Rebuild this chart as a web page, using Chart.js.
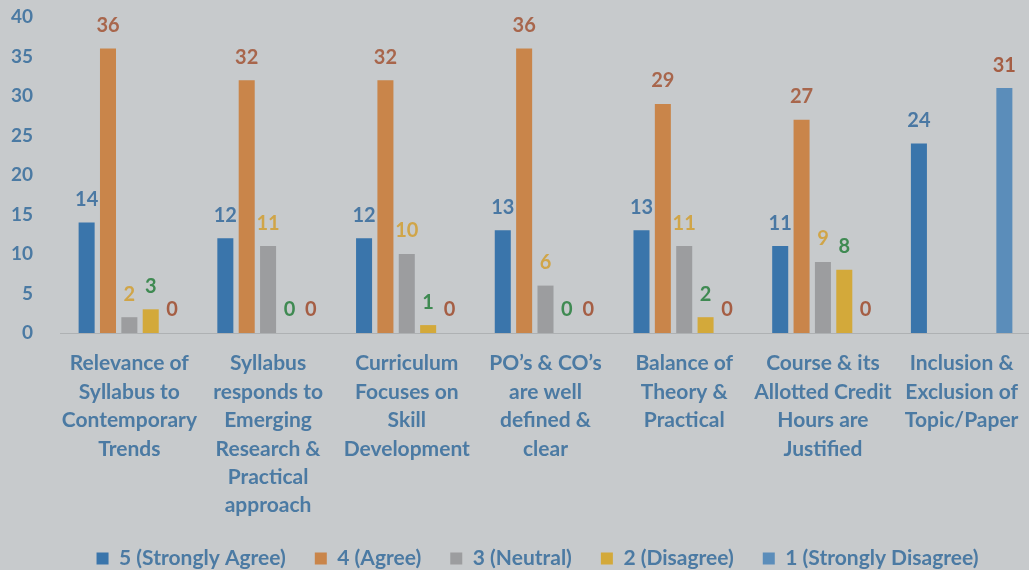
<!DOCTYPE html>
<html>
<head>
<meta charset="utf-8">
<script src="https://cdn.jsdelivr.net/npm/chart.js@4.4.0/dist/chart.umd.min.js"></script>
<style>
  html, body { margin: 0; padding: 0; background: #c7cacc; overflow: hidden; }
  #wrap { width: 1031px; height: 570px; }
</style>
</head>
<body>
<div id="wrap"><canvas id="c" width="1031" height="570"></canvas></div>
<script>
const categories = [
  ["Relevance of", "Syllabus to", "Contemporary", "Trends"],
  ["Syllabus", "responds to", "Emerging", "Research &", "Practical", "approach"],
  ["Curriculum", "Focuses on", "Skill", "Development"],
  ["PO\u2019s & CO\u2019s", "are well", "defined &", "clear"],
  ["Balance of", "Theory &", "Practical"],
  ["Course & its", "Allotted Credit", "Hours are", "Justified"],
  ["Inclusion &", "Exclusion of", "Topic/Paper"]
];
const seriesNames = ["5 (Strongly Agree)", "4 (Agree)", "3 (Neutral)", "2 (Disagree)", "1 (Strongly Disagree)"];
const stronglyAgree    = [14, 12, 12, 13, 13, 11, 24];
const agree            = [36, 32, 32, 36, 29, 27, null];
const neutral          = [2, 11, 10, 6, 11, 9, null];
const disagree         = [3, 0, 1, 0, 2, 8, null];
const stronglyDisagree = [0, 0, 0, 0, 0, 0, 31];
const yTicks = [0, 5, 10, 15, 20, 25, 30, 35, 40];

const barColors   = ["#3a75ab", "#c9854a", "#9c9d9f", "#d3a93a", "#5b8dba"];
const labelColors = ["#4a78a3", "#a8664c", "#d0a548", "#3f8a52", "#a55e44"];
const textBlue = "#4b7aa3";
const FONT = "Lato, 'Open Sans', sans-serif";

const PLOT_TOP = 17;
const PLOT_BOTTOM = 333;
const LEGEND_SHIFT = 22;

const valueLabels = {
  id: 'valueLabels',
  afterDatasetsDraw(chart) {
    const ctx = chart.ctx;
    ctx.save();
    ctx.font = "bold 20px " + FONT;
    ctx.textAlign = 'center';
    ctx.textBaseline = 'middle';
    chart.data.datasets.forEach((ds, di) => {
      const meta = chart.getDatasetMeta(di);
      meta.data.forEach((el, i) => {
        const v = ds.data[i];
        if (v === null || v === undefined) return;
        ctx.fillStyle = labelColors[di];
        ctx.fillText(String(v), el.x, el.y - 23);
      });
    });
    ctx.restore();
  }
};

const plotArea = {
  id: 'plotArea',
  afterLayout(chart) {
    const y = chart.scales.y, x = chart.scales.x;
    const xh = x.bottom - x.top;
    y.top = PLOT_TOP; y.bottom = PLOT_BOTTOM; y.height = PLOT_BOTTOM - PLOT_TOP;
    y.configure();
    x.top = PLOT_BOTTOM; x.bottom = PLOT_BOTTOM + xh;
    chart.chartArea.top = PLOT_TOP;
    chart.chartArea.bottom = PLOT_BOTTOM;
    chart.chartArea.height = PLOT_BOTTOM - PLOT_TOP;
    if (chart.legend) {
      chart.legend.left += LEGEND_SHIFT;
      chart.legend.right += LEGEND_SHIFT;
    }
  }
};

const bgPlugin = {
  id: 'bg',
  beforeDraw(chart) {
    const ctx = chart.ctx;
    ctx.save();
    ctx.fillStyle = "#c7cacc";
    ctx.fillRect(0, 0, chart.width, chart.height);
    ctx.restore();
  }
};

const allSeries = [stronglyAgree, agree, neutral, disagree, stronglyDisagree];

new Chart(document.getElementById('c'), {
  type: 'bar',
  data: {
    labels: categories,
    datasets: allSeries.map((d, i) => ({
      label: seriesNames[i],
      data: d,
      backgroundColor: barColors[i],
      borderWidth: 0,
      categoryPercentage: 0.77,
      barPercentage: 0.75
    }))
  },
  options: {
    responsive: false,
    animation: false,
    devicePixelRatio: 1,
    layout: { padding: { top: 0, left: 0, right: 0, bottom: -9 } },
    plugins: {
      tooltip: { enabled: false },
      legend: {
        position: 'bottom',
        labels: {
          boxWidth: 12,
          boxHeight: 12,
          padding: 29,
          color: textBlue,
          font: { family: FONT, size: 21, weight: 'bold' }
        }
      }
    },
    scales: {
      x: {
        grid: { display: false },
        border: { display: true, color: '#aeb1b3', width: 1 },
        ticks: {
          color: textBlue,
          maxRotation: 0,
          autoSkip: false,
          padding: 8,
          font: { family: FONT, size: 21, weight: 'bold', lineHeight: 1.357 }
        },
        afterFit(scale) { scale.height = 185; }
      },
      y: {
        min: 0,
        max: 40,
        grid: { display: false },
        border: { display: false },
        afterBuildTicks(scale) { scale.ticks = yTicks.map(v => ({ value: v })); },
        ticks: {
          color: textBlue,
          padding: 19,
          font: { family: FONT, size: 19, weight: 'bold' }
        },
        afterFit(scale) { scale.width = 60; }
      }
    }
  },
  plugins: [bgPlugin, plotArea, valueLabels]
});
</script>
</body>
</html>
